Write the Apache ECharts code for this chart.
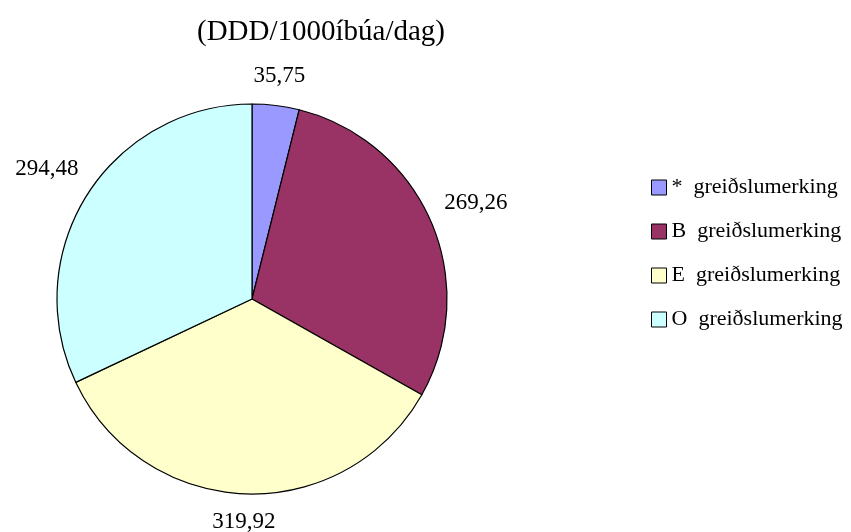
<!DOCTYPE html>
<html>
<head>
<meta charset="utf-8">
<script src="https://cdn.jsdelivr.net/npm/echarts@6/dist/echarts.min.js"></script>
<style>
    html, body { margin: 0; padding: 0; background: #fff; }
    #chart { width: 851px; height: 532px; }
</style>
</head>
<body>
<div id="chart"></div>
<script>
// categories and values
const categories = ['*  greiðslumerking', 'B  greiðslumerking', 'E  greiðslumerking', 'O  greiðslumerking']
const values = [35.75, 269.26, 319.92, 294.48]
const colors = ['#9999ff', '#993366', '#ffffcc', '#ccffff']

const font = '"Liberation Serif", "Times New Roman", serif'
const pieCenter = [252, 299]
const pieRadius = 195

// mid angle of each slice, clockwise from 12 o'clock
const total = values.reduce((a, b) => a + b, 0)
let acc = 0
const midAngles = values.map(v => {
    const a = (acc + v / 2) / total * Math.PI * 2
    acc += v
    return a
})

const chart = echarts.init(document.getElementById('chart'))

chart.setOption({
    animation: false,
    title: {
        text: '(DDD/1000íbúa/dag)',
        left: 316,
        top: 13,
        textAlign: 'center',
        textStyle: { fontFamily: font, fontSize: 29, fontWeight: 'normal', color: '#000' }
    },
    legend: {
        orient: 'vertical',
        left: 646,
        top: 171,
        itemWidth: 15,
        itemHeight: 15,
        itemGap: 21,
        icon: 'rect',
        data: categories,
        textStyle: { fontFamily: font, fontSize: 22, lineHeight: 23, color: '#000' },
        itemStyle: { borderColor: '#000', borderWidth: 1 }
    },
    series: [{
        type: 'pie',
        center: pieCenter,
        radius: pieRadius,
        startAngle: 90,
        clockwise: true,
        data: categories.map((name, i) => ({
            name,
            value: values[i],
            itemStyle: { color: colors[i] }
        })),
        itemStyle: { borderColor: '#000', borderWidth: 1.2 },
        label: {
            show: true,
            position: 'outside',
            overflow: 'none',
            formatter: p => p.value.toFixed(2).replace('.', ','),
            fontFamily: font,
            fontSize: 23,
            color: '#000'
        },
        labelLine: { show: false },
        // put each label just outside the rim, along the slice's mid angle
        labelLayout: params => {
            const a = midAngles[params.dataIndex]
            const s = Math.sin(a), c = Math.cos(a)
            const hw = params.labelRect.width / 2
            const hh = params.labelRect.height / 2
            const d = pieRadius + 15 + hw * Math.abs(s) + hh * Math.abs(c)
            return {
                x: pieCenter[0] + d * s,
                y: pieCenter[1] - d * c,
                align: 'center',
                verticalAlign: 'middle'
            }
        },
        emphasis: { disabled: true }
    }]
})
</script>
</body>
</html>
